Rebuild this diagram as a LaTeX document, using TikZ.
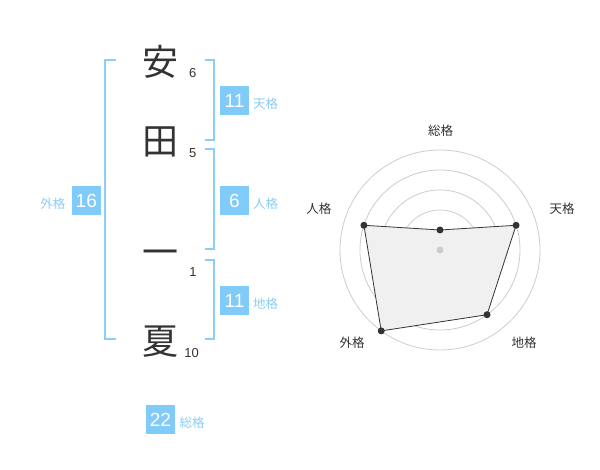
\documentclass[tikz,border=0pt]{standalone}
\usepackage{fontspec}
\setmainfont{Liberation Sans}
\newfontfamily\jp{Noto Sans CJK JP}
\usepackage{tikz}
\usetikzlibrary{positioning, calc}
\definecolor{boxblue}{HTML}{80CBFA}
\definecolor{lineblue}{HTML}{8ACFF7}
\definecolor{labelblue}{HTML}{8ACDF5}
\definecolor{ink}{HTML}{333333}
\tikzset{
x=1pt, y=-1pt, % one unit is one pixel, y grows downwards
kanji/.style={inner sep=0pt, text=ink, font=\jp\fontsize{36}{36}\selectfont}, % the big characters
strokes/.style={inner sep=0pt, text=ink, font=\fontsize{13}{13}\selectfont}, % stroke counts
score/.style={fill=boxblue, text=white, minimum size=29pt, inner sep=0pt, font=\fontsize{19}{19}\selectfont}, % the blue boxes
kaku/.style={inner sep=0pt, text=labelblue, font=\jp\fontsize{12.5}{12.5}\selectfont}, % names beside the boxes
bracket/.style={draw=lineblue, line width=2pt}, % the brackets
ring/.style={draw=black!20, line width=0.8pt}, % radar circles
radar/.style={draw=ink, fill=black!6, line width=0.8pt}, % radar polygon
dot/.style={circle, fill=ink, inner sep=0pt, minimum size=7pt}, % radar points
axis/.style={inner sep=0pt, text=ink, font=\jp\fontsize{12.5}{12.5}\selectfont}, % radar labels
}
\begin{document}
\begin{tikzpicture}
            \useasboundingbox (0,0) rectangle (600,470);
            % name
            \node[kanji] (an) at (160,62) {安};
            \node[kanji] (ta) at (160,141.7) {田};
            \node[kanji] (ichi) at (160,258) {一};
            \node[kanji] (natsu) at (160,341.7) {夏};
            \node[strokes] (n1) at (192.7,72.7) {6};
            \node[strokes] (n2) at (192.7,152.7) {5};
            \node[strokes] (n3) at (193,272) {1};
            \node[strokes] (n4) at (191.7,352.7) {10};
            % brackets
            \draw[bracket] (205,60) -- (214.3,60) -- (214.3,140) -- (205,140);
            \draw[bracket] (205,149.3) -- (214.3,149.3) -- (214.3,249.3) -- (205,249.3);
            \draw[bracket] (205,260) -- (214.3,260) -- (214.3,339.3) -- (205,339.3);
            \draw[bracket] (115.7,60) -- (105,60) -- (105,339.3) -- (115.7,339.3);
            % scores
            \node[score] (tenkaku) at (234.5,100.5) {11};
            \node[score] (jinkaku) at (234.5,200.5) {6};
            \node[score] (chikaku) at (234.5,300.5) {11};
            \node[score] (gaikaku) at (86.3,200.5) {16};
            \node[score] (soukaku) at (160.5,419.5) {22};
            \node[kaku] at (265.5,104) {天格};
            \node[kaku] at (265.5,204) {人格};
            \node[kaku] at (265.5,304) {地格};
            \node[kaku] at (52.8,204) {外格};
            \node[kaku] at (192,422.7) {総格};
            % radar chart
            \coordinate (ctr) at (440,250);
            \foreach \r in {20,40,...,100}
                \draw[ring] (ctr) circle (\r);
            \coordinate (zong) at ($(ctr)+(-90:20)$);
            \coordinate (tian) at ($(ctr)+(-18:80)$);
            \coordinate (di) at ($(ctr)+(54:80)$);
            \coordinate (wai) at ($(ctr)+(126:100)$);
            \coordinate (ren) at ($(ctr)+(198:80)$);
            \draw[radar] (zong) -- (tian) -- (di) -- (wai) -- (ren) -- cycle;
            \foreach \p in {zong,tian,di,wai,ren}
                \node[dot] at (\p) {};
            \node[dot, fill=black!20] at (ctr) {};
            \node[axis] at (440.5,130.7) {総格};
            \node[axis] at (562,209) {天格};
            \node[axis] at (524,342.3) {地格};
            \node[axis] at (352,342.3) {外格};
            \node[axis] at (318.8,209) {人格};
\end{tikzpicture}
\end{document}
